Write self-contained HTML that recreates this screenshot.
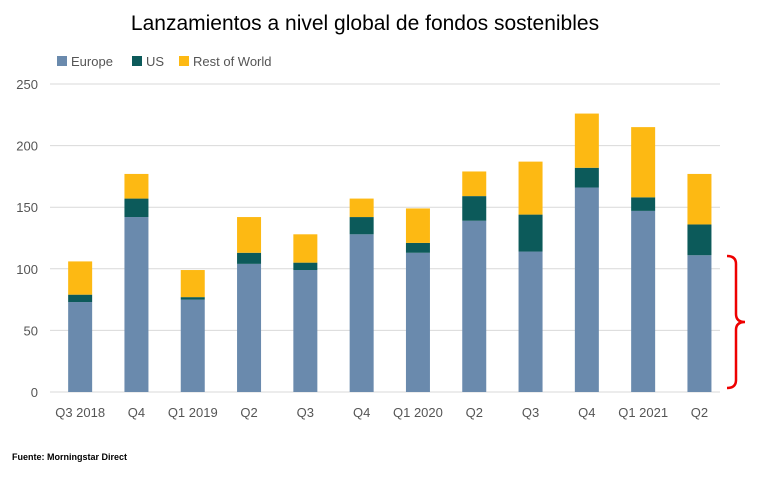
<!DOCTYPE html>
<html><head><meta charset="utf-8"><style>
body{margin:0;background:#fff;width:765px;height:475px;overflow:hidden;font-family:"Liberation Sans",sans-serif}
</style></head><body>
<svg id="chart" width="765" height="475">
<text x="365" y="30" text-anchor="middle" font-size="21" fill="#000">Lanzamientos a nivel global de fondos sostenibles</text>
<g>
<rect x="57" y="56" width="10" height="10" fill="#6a8aad"/>
<text x="71" y="66" font-size="13" fill="#555">Europe</text>
<rect x="132" y="56" width="10" height="10" fill="#0c5a5a"/>
<text x="146" y="66" font-size="13" fill="#555">US</text>
<rect x="179" y="56" width="10" height="10" fill="#fdb913"/>
<text x="193" y="66" font-size="13" fill="#555">Rest of World</text>
</g>
<g id="grid"></g><g id="bars"></g><g id="xl"></g>
<text x="12" y="460" font-size="9" font-weight="bold" fill="#000">Fuente: Morningstar Direct</text>
<path d="M727 256 Q736 256 736 264 L736 314 Q736 322 745 322 Q736 322 736 330 L736 380 Q736 388 727 388" fill="none" stroke="#e00" stroke-width="2.5"/>
</svg>
<script>
const categories=["Q3 2018","Q4","Q1 2019","Q2","Q3","Q4","Q1 2020","Q2","Q3","Q4","Q1 2021","Q2"];
const europe=[73,142,75,104,99,128,113,139,114,166,147,111];
const us=[6,15,2,9,6,14,8,20,30,16,11,25];
const row=[27,20,22,29,23,15,28,20,43,44,57,41];
const yTicks=[0,50,100,150,200,250];
const NS="http://www.w3.org/2000/svg";
const y0=392,y1=84,vmax=250,x0=52,step=56.3,bw=24;
const y=v=>y0-(v/vmax)*(y0-y1);
const x=i=>x0+step*(i+0.5);
function mk(t,a,p){const e=document.createElementNS(NS,t);for(const k in a)e.setAttribute(k,a[k]);p.appendChild(e);return e;}
const g=document.getElementById('grid');
yTicks.forEach(t=>{
 const l=mk('line',{x1:50,x2:720,y1:y(t),y2:y(t),stroke:'#d9d9d9','stroke-width':1},g);
 
 
 const tx=mk('text',{x:38,y:y(t)+5,'text-anchor':'end','font-size':13,fill:'#555'},g);
 tx.textContent=t;
 
 
});
const b=document.getElementById('bars'),xl=document.getElementById('xl');
categories.forEach((c,i)=>{
 const segs=[[europe[i],'#6a8aad','europe'],[us[i],'#0c5a5a','us'],[row[i],'#fdb913','row']];
 let base=0;
 segs.forEach(s=>{
  const r=mk('rect',{x:x(i)-bw/2,y:y(base+s[0]),width:bw,height:y(base)-y(base+s[0]),fill:s[1]},b);
  
  
  base+=s[0];
 });
 const t=mk('text',{x:x(i),y:417,'text-anchor':'middle','font-size':13,fill:'#555'},xl);
 t.textContent=c;
 
 
});
</script>
</body></html>
